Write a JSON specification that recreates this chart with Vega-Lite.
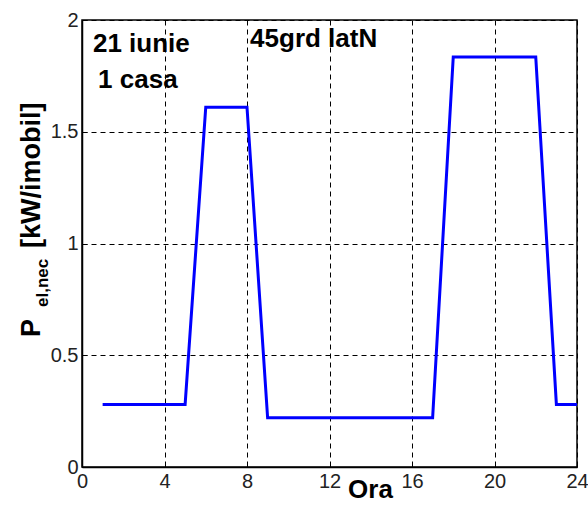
{
  "$schema": "https://vega.github.io/schema/vega-lite/v6.json",
  "width": 495,
  "height": 447,
  "autosize": "none",
  "padding": {"left": 82, "top": 20, "right": 11, "bottom": 39},
  "background": "white",
  "config": {
    "view": {"stroke": "black", "strokeWidth": 1.5},
    "font": "Liberation Sans"
  },
  "datasets": {
    "load": [
      {"ora": 1, "p": 0.28},
      {"ora": 5, "p": 0.28},
      {"ora": 6, "p": 1.61},
      {"ora": 8, "p": 1.61},
      {"ora": 9, "p": 0.22},
      {"ora": 17, "p": 0.22},
      {"ora": 18, "p": 1.835},
      {"ora": 22, "p": 1.835},
      {"ora": 23, "p": 0.28},
      {"ora": 24, "p": 0.28}
    ],
    "notes": [
      {"text": "21 iunie", "ora": 0.53, "p": 1.857},
      {"text": "1 casa", "ora": 0.78, "p": 1.696},
      {"text": "45grd latN", "ora": 8.15, "p": 1.879}
    ],
    "ymain": [
      {"text": "P", "ora": -2.04, "p": 0.582},
      {"text": "[kW/imobil]", "ora": -2.04, "p": 0.98}
    ],
    "ysub": [
      {"text": "el,nec", "ora": -1.65, "p": 0.716}
    ]
  },
  "layer": [
    {
      "data": {"name": "load"},
      "mark": {"type": "line", "color": "#0000FF", "strokeWidth": 3, "clip": false},
      "encoding": {
        "x": {
          "field": "ora", "type": "quantitative",
          "scale": {"domain": [0, 24], "nice": false, "zero": false},
          "axis": {
            "values": [0, 4, 8, 12, 16, 20, 24],
            "format": "~g",
            "title": "Ora",
            "titleFont": "Liberation Sans", "titleFontSize": 26, "titleFontWeight": "bold", "titleColor": "black",
            "titleX": 288, "titleY": 30, "titleAnchor": "middle", "titleAlign": "center", "titleBaseline": "alphabetic",
            "labelFont": "Liberation Sans", "labelFontSize": 20, "labelColor": "#222", "labelPadding": 9,
            "labelFlush": false,
            "grid": true, "gridColor": "black", "gridDash": [5, 4], "gridWidth": 1, "gridOpacity": 1,
            "domainColor": "black", "domainWidth": 1.5,
            "ticks": true, "tickSize": -5, "tickColor": "black", "tickWidth": 1
          }
        },
        "y": {
          "field": "p", "type": "quantitative",
          "scale": {"domain": [0, 2], "nice": false},
          "axis": {
            "values": [0, 0.5, 1, 1.5, 2],
            "format": "~g",
            "title": null,
            "labelFont": "Liberation Sans", "labelFontSize": 20, "labelColor": "#222", "labelPadding": 9,
            "labelFlush": false,
            "grid": true, "gridColor": "black", "gridDash": [5, 4], "gridWidth": 1, "gridOpacity": 1,
            "domainColor": "black", "domainWidth": 1.5,
            "ticks": true, "tickSize": -5, "tickColor": "black", "tickWidth": 1
          }
        }
      }
    },
    {
      "data": {"name": "notes"},
      "mark": {"type": "text", "font": "Liberation Sans", "fontWeight": "bold", "fontSize": 26, "align": "left", "baseline": "alphabetic", "color": "black", "clip": false},
      "encoding": {
        "x": {"field": "ora", "type": "quantitative"},
        "y": {"field": "p", "type": "quantitative"},
        "text": {"field": "text"}
      }
    },
    {
      "data": {"name": "ymain"},
      "mark": {"type": "text", "font": "Liberation Sans", "fontWeight": "bold", "fontSize": 27, "angle": 270, "align": "left", "baseline": "alphabetic", "color": "black", "clip": false},
      "encoding": {
        "x": {"field": "ora", "type": "quantitative"},
        "y": {"field": "p", "type": "quantitative"},
        "text": {"field": "text"}
      }
    },
    {
      "data": {"name": "ysub"},
      "mark": {"type": "text", "font": "Liberation Sans", "fontWeight": "bold", "fontSize": 17, "angle": 270, "align": "left", "baseline": "alphabetic", "color": "black", "clip": false},
      "encoding": {
        "x": {"field": "ora", "type": "quantitative"},
        "y": {"field": "p", "type": "quantitative"},
        "text": {"field": "text"}
      }
    }
  ]
}
